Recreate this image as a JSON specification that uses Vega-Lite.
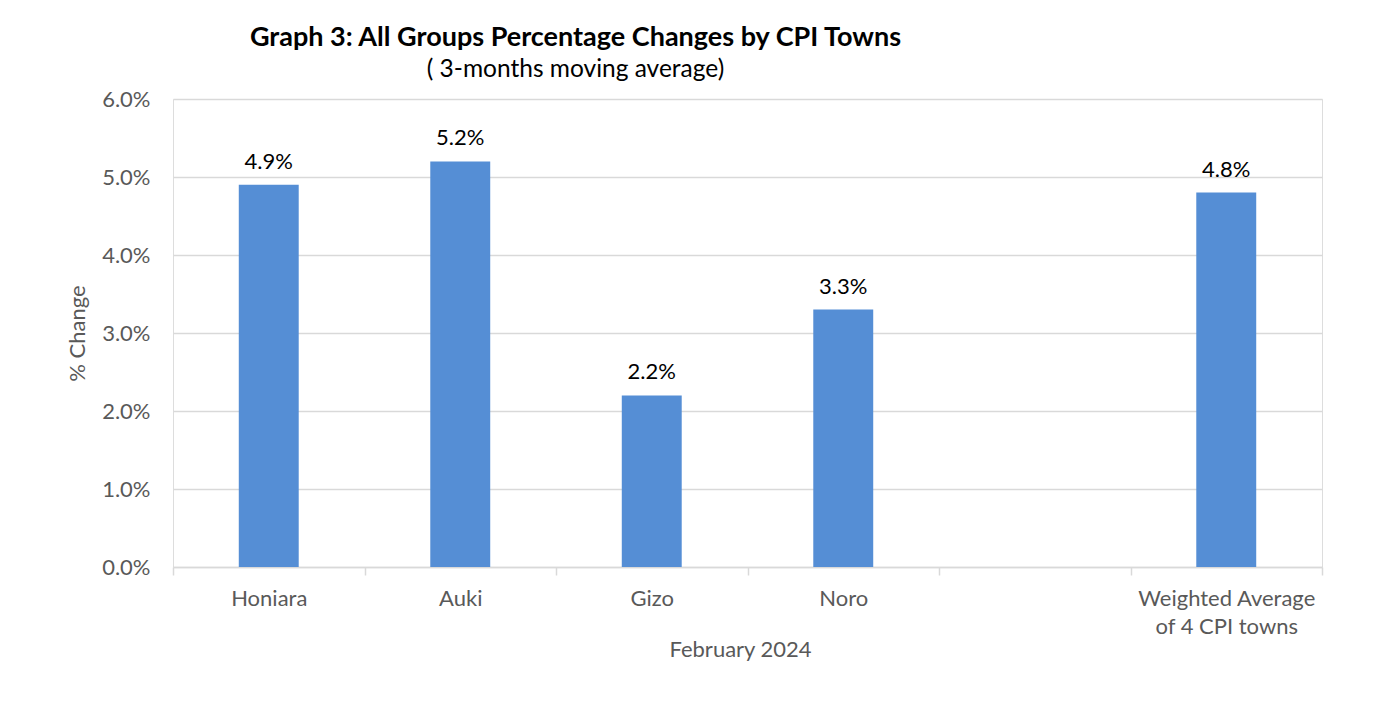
{
  "$schema": "https://vega.github.io/schema/vega-lite/v6.json",
  "width": 1149,
  "height": 468,
  "autosize": {"type": "none"},
  "padding": {"left": 173, "top": 99, "right": 66, "bottom": 144},
  "background": "white",
  "title": {
    "text": "Graph 3: All Groups Percentage Changes by CPI Towns",
    "subtitle": "( 3-months moving average)",
    "anchor": "middle",
    "frame": "group",
    "dx": -172,
    "offset": 6,
    "font": "Lato",
    "fontSize": 27,
    "fontWeight": "bold",
    "color": "black",
    "subtitleFont": "Lato",
    "subtitleFontSize": 24.5,
    "subtitleColor": "black",
    "subtitlePadding": 6
  },
  "data": {
    "values": [
      {"town": "Honiara", "value": 0.049},
      {"town": "Auki", "value": 0.052},
      {"town": "Gizo", "value": 0.022},
      {"town": "Noro", "value": 0.033},
      {"town": " ", "value": null},
      {"town": "Weighted Average of 4 CPI towns", "value": 0.048}
    ]
  },
  "encoding": {
    "x": {
      "field": "town",
      "type": "nominal",
      "sort": null,
      "scale": {
        "domain": ["Honiara", "Auki", "Gizo", "Noro", " ", "Weighted Average of 4 CPI towns"],
        "paddingInner": 0,
        "paddingOuter": 0
      },
      "axis": {
        "title": "February 2024",
        "titleFont": "Lato",
        "titleFontSize": 22,
        "titleFontWeight": "normal",
        "titleColor": "#595959",
        "titlePadding": 2,
        "titleX": 567,
        "labelFont": "Lato",
        "labelFontSize": 22,
        "labelColor": "#595959",
        "labelAngle": 0,
        "labelPadding": 13,
        "labelLineHeight": 28,
        "labelExpr": "datum.value == 'Weighted Average of 4 CPI towns' ? ['Weighted Average', 'of 4 CPI towns'] : datum.value",
        "tickBand": "extent",
        "tickSize": 8,
        "tickColor": "#d9d9d9",
        "tickWidth": 1.5,
        "domainColor": "#d9d9d9",
        "domainWidth": 1.5,
        "grid": false
      }
    }
  },
  "layer": [
    {
      "mark": {"type": "bar", "width": {"band": 0.313}, "color": "#558ed5"},
      "encoding": {
        "y": {
          "field": "value",
          "type": "quantitative",
          "scale": {"domain": [0, 0.06], "nice": false},
          "axis": {
            "title": "% Change",
            "titleFont": "Lato",
            "titleFontSize": 22,
            "titleFontWeight": "normal",
            "titleColor": "#595959",
            "titlePadding": 12,
            "format": ".1%",
            "values": [0, 0.01, 0.02, 0.03, 0.04, 0.05, 0.06],
            "labelFont": "Lato",
            "labelFontSize": 22,
            "labelColor": "#595959",
            "labelPadding": 23,
            "ticks": false,
            "domain": false,
            "grid": true,
            "gridColor": "#d9d9d9",
            "gridWidth": 1.5
          }
        }
      }
    },
    {
      "transform": [{"filter": "isValid(datum.value)"}],
      "mark": {"type": "text", "baseline": "alphabetic", "dy": -16, "font": "Lato", "fontSize": 22, "color": "black"},
      "encoding": {
        "y": {"field": "value", "type": "quantitative"},
        "text": {"field": "value", "type": "quantitative", "format": ".1%"}
      }
    }
  ]
}
